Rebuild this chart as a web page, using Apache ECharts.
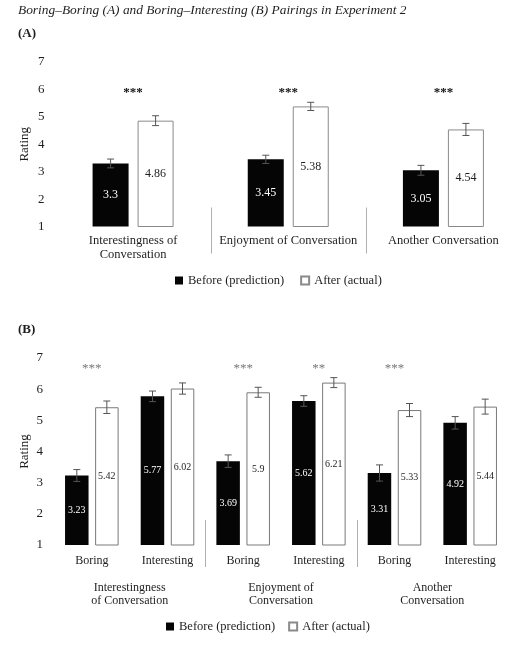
<!DOCTYPE html>
<html>
<head>
<meta charset="utf-8">
<script src="https://cdn.jsdelivr.net/npm/echarts@6/dist/echarts.min.js"></script>
<style>
html,body{margin:0;padding:0;background:#fff;}
#c{width:521px;height:648px;}
</style>
</head>
<body>
<div id="c"></div>
<script>
// ---------- data ----------
const yTicks = [1, 2, 3, 4, 5, 6, 7];
const categoriesA = ['Interestingness of\nConversation', 'Enjoyment of Conversation', 'Another Conversation'];
const beforeA = [3.3, 3.45, 3.05];
const afterA = [4.86, 5.38, 4.54];
const beforeErrA = [0.16, 0.15, 0.18];
const afterErrA = [0.18, 0.15, 0.22];
const starsA = ['***', '***', '***'];
const starLevelA = 6;

const subCategoriesB = ['Boring', 'Interesting', 'Boring', 'Interesting', 'Boring', 'Interesting'];
const groupsB = ['Interestingness\nof Conversation', 'Enjoyment of\nConversation', 'Another\nConversation'];
const beforeB = [3.23, 5.77, 3.69, 5.62, 3.31, 4.92];
const afterB = [5.42, 6.02, 5.9, 6.21, 5.33, 5.44];
const beforeErrB = [0.19, 0.17, 0.2, 0.17, 0.26, 0.2];
const afterErrB = [0.2, 0.18, 0.16, 0.16, 0.21, 0.24];
const starsB = ['***', '', '***', '**', '***', ''];
const starLevelB = 6.75;

const seriesNames = ['Before (prediction)', 'After (actual)'];
const groupBoundariesA = [1, 2];
const groupBoundariesB = [2, 4];

// ---------- helpers ----------
const FONT = 'Liberation Serif';
const TXT = '#1e1e1e';

function errRender(offset, errs, capHalf) {
  return function (params, api) {
    const i = api.value(0), v = api.value(1);
    const e = errs[params.dataIndex];
    const top = api.coord([i, v + e]);
    const bot = api.coord([i, v - e]);
    const x = top[0] + offset;
    const st = { stroke: '#555', lineWidth: 1 };
    return {
      type: 'group', children: [
        { type: 'line', shape: { x1: x, y1: top[1], x2: x, y2: bot[1] }, style: st },
        { type: 'line', shape: { x1: x - capHalf, y1: top[1], x2: x + capHalf, y2: top[1] }, style: st },
        { type: 'line', shape: { x1: x - capHalf, y1: bot[1], x2: x + capHalf, y2: bot[1] }, style: st }
      ]
    };
  };
}
function starRender(stars, color, size, weight, dy) {
  return function (params, api) {
    const c = api.coord([api.value(0), api.value(1)]);
    return {
      type: 'text', x: c[0], y: c[1] + dy,
      style: { text: stars[params.dataIndex], fill: color, font: weight + ' ' + size + 'px "' + FONT + '"', align: 'center', verticalAlign: 'middle' }
    };
  };
}
function sepRender(up, down) {
  return function (params, api) {
    const c = api.coord([api.value(0), api.value(1)]);
    const w = api.size([1, 0])[0];
    const x = Math.round(c[0] - w / 2) + 0.5;
    return { type: 'line', shape: { x1: x, y1: c[1] - up, x2: x, y2: c[1] + down }, style: { stroke: '#b0b0b0', lineWidth: 1 } };
  };
}
function yAxisCfg(gridIndex, gap) {
  return {
    type: 'value', gridIndex: gridIndex, min: yTicks[0], max: yTicks[yTicks.length - 1], interval: 1,
    axisLine: { show: false }, axisTick: { show: false }, splitLine: { show: false },
    axisLabel: { color: TXT, fontFamily: FONT, fontSize: 13, margin: 11,
      formatter: function (v) { return yTicks.indexOf(v) >= 0 ? String(v) : ''; } },
    name: 'Rating', nameLocation: 'middle', nameGap: gap, nameMoveOverlap: false,
    nameTextStyle: { color: TXT, fontFamily: FONT, fontSize: 13 }
  };
}

const chart = echarts.init(document.getElementById('c'), null, { renderer: 'canvas' });
chart.setOption({
  animation: false,
  backgroundColor: '#fff',
  title: [
    { text: 'Boring–Boring (A) and Boring–Interesting (B) Pairings in Experiment 2', left: 18, top: 4, padding: 0,
      textStyle: { fontFamily: FONT, fontSize: 13.4, fontStyle: 'italic', fontWeight: 'normal', color: TXT } },
    { text: '(A)', left: 18, top: 27, padding: 0, textStyle: { fontFamily: FONT, fontSize: 13, fontWeight: 'bold', color: TXT } },
    { text: '(B)', left: 18, top: 323, padding: 0, textStyle: { fontFamily: FONT, fontSize: 13, fontWeight: 'bold', color: TXT } }
  ],
  legend: [
    { data: seriesNames, left: 175, top: 274, itemWidth: 8, itemHeight: 8, itemGap: 16, icon: 'rect', padding: 0,
      textStyle: { fontFamily: FONT, fontSize: 12.5, color: TXT } },
    { data: seriesNames, left: 166, top: 620, itemWidth: 8, itemHeight: 8, itemGap: 13, icon: 'rect', padding: 0,
      textStyle: { fontFamily: FONT, fontSize: 12.5, color: TXT } }
  ],
  grid: [
    { left: 55.5, top: 62, width: 476, height: 164.5 },
    { left: 54, top: 358, width: 454, height: 187 }
  ],
  xAxis: [
    { type: 'category', gridIndex: 0, data: categoriesA, axisLine: { show: false }, axisTick: { show: false },
      axisLabel: { color: TXT, fontFamily: FONT, fontSize: 12.5, margin: 7, lineHeight: 14, interval: 0 } },
    { type: 'category', gridIndex: 1, data: subCategoriesB, axisLine: { show: false }, axisTick: { show: false },
      axisLabel: { color: TXT, fontFamily: FONT, fontSize: 12, margin: 10, interval: 0 } },
    { type: 'category', gridIndex: 1, position: 'bottom', data: groupsB, axisLine: { show: false }, axisTick: { show: false },
      axisLabel: { color: TXT, fontFamily: FONT, fontSize: 12, margin: 36, lineHeight: 13, interval: 0 } }
  ],
  yAxis: [yAxisCfg(0, 24), yAxisCfg(1, 23)],
  series: [
    { name: seriesNames[0], type: 'bar', xAxisIndex: 0, yAxisIndex: 0, data: beforeA, barWidth: 36, barGap: '25%',
      itemStyle: { color: '#050505' },
      label: { show: true, position: 'inside', color: '#fff', fontFamily: FONT, fontSize: 12 } },
    { name: seriesNames[1], type: 'bar', xAxisIndex: 0, yAxisIndex: 0, data: afterA, barWidth: 36, barGap: '25%',
      itemStyle: { color: '#fff', borderColor: '#8a8a8a', borderWidth: 1 },
      label: { show: true, position: 'inside', color: TXT, fontFamily: FONT, fontSize: 12 } },
    { type: 'custom', xAxisIndex: 0, yAxisIndex: 0, data: beforeA.map((v, i) => [i, v]), renderItem: errRender(-22.5, beforeErrA, 3.5), silent: true, z: 5 },
    { type: 'custom', xAxisIndex: 0, yAxisIndex: 0, data: afterA.map((v, i) => [i, v]), renderItem: errRender(22.5, afterErrA, 3.5), silent: true, z: 5 },
    { type: 'custom', xAxisIndex: 0, yAxisIndex: 0, data: starsA.map((s, i) => [i, starLevelA]), renderItem: starRender(starsA, '#111', 13, 'bold', 3), silent: true },
    { type: 'custom', xAxisIndex: 0, yAxisIndex: 0, data: groupBoundariesA.map(b => [b, yTicks[0]]), renderItem: sepRender(19, 27), silent: true },

    { name: seriesNames[0], type: 'bar', xAxisIndex: 1, yAxisIndex: 1, data: beforeB, barWidth: 23.5, barGap: '28%',
      itemStyle: { color: '#050505' },
      label: { show: true, position: 'inside', color: '#fff', fontFamily: FONT, fontSize: 10 } },
    { name: seriesNames[1], type: 'bar', xAxisIndex: 1, yAxisIndex: 1, data: afterB, barWidth: 23.5, barGap: '28%',
      itemStyle: { color: '#fff', borderColor: '#7a7a7a', borderWidth: 1 },
      label: { show: true, position: 'inside', color: TXT, fontFamily: FONT, fontSize: 10 } },
    { type: 'custom', xAxisIndex: 1, yAxisIndex: 1, data: beforeB.map((v, i) => [i, v]), renderItem: errRender(-15, beforeErrB, 3.5), silent: true, z: 5 },
    { type: 'custom', xAxisIndex: 1, yAxisIndex: 1, data: afterB.map((v, i) => [i, v]), renderItem: errRender(15, afterErrB, 3.5), silent: true, z: 5 },
    { type: 'custom', xAxisIndex: 1, yAxisIndex: 1, data: starsB.map((s, i) => [i, starLevelB]), renderItem: starRender(starsB, '#777', 13, 'normal', 3), silent: true },
    { type: 'custom', xAxisIndex: 1, yAxisIndex: 1, data: groupBoundariesB.map(b => [b, yTicks[0]]), renderItem: sepRender(25, 22), silent: true }
  ]
});
</script>
</body>
</html>
